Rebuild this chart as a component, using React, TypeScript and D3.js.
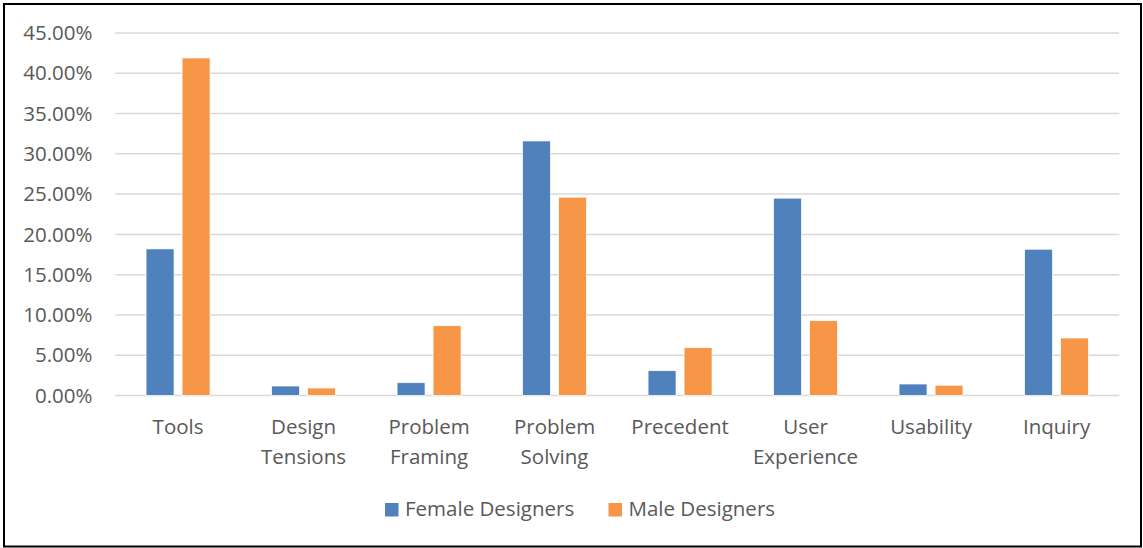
import React from "react";
import * as d3 from "d3";

// Share of design talk by theme, split by designer gender
const categories = [
  ["Tools"],
  ["Design", "Tensions"],
  ["Problem", "Framing"],
  ["Problem", "Solving"],
  ["Precedent"],
  ["User", "Experience"],
  ["Usability"],
  ["Inquiry"],
];
const seriesNames = ["Female Designers", "Male Designers"];
const femaleValues = [0.182, 0.0118, 0.0159, 0.316, 0.0308, 0.245, 0.0143, 0.1816];
const maleValues = [0.419, 0.0093, 0.0867, 0.2462, 0.0594, 0.0929, 0.0127, 0.0714];
const yTicks = [0, 0.05, 0.1, 0.15, 0.2, 0.25, 0.3, 0.35, 0.4, 0.45];

const colors = ["#4F81BD", "#F79646"];
const textColor = "#595959";
const font = "'Open Sans', sans-serif";

export default function App() {
  const width = 1143;
  const height = 548;
  const plotLeft = 115.3;
  const plotRight = 1119.3;
  const plotTop = 33;
  const plotBottom = 395.5;

  const keys = categories.map((c) => c.join(" "));
  const x = d3.scaleBand<string>().domain(keys).range([plotLeft, plotRight]).paddingInner(0);
  const groupWidth = 64;
  const xInner = d3
    .scaleBand<string>()
    .domain(seriesNames)
    .range([0, groupWidth])
    .paddingInner(8 / 36);
  const y = d3.scaleLinear().domain([0, 0.45]).range([plotBottom, plotTop]);
  const fmt = d3.format(".2%");

  const series = [femaleValues, maleValues];

  return (
    <svg
      width={width}
      height={height}
      style={{ position: "absolute", left: 0, top: 0, background: "#fff" }}
      fontFamily={font}
    >
      <rect x={0} y={0} width={width} height={height} fill="#fff" />
      {/* frame */}
      <rect x={4} y={4} width={1137} height={542.5} fill="none" stroke="#000" strokeWidth={2} />

      {/* gridlines and y labels */}
      {yTicks.map((t) => (
        <g key={t}>
          <line
            x1={plotLeft}
            x2={plotRight}
            y1={y(t)}
            y2={y(t)}
            stroke="#d9d9d9"
            strokeWidth={1.5}
          />
          <text
            x={92.5}
            y={y(t)}
            dy="0.35em"
            textAnchor="end"
            fontSize={20.5}
            fill={textColor}
          >
            {fmt(t)}
          </text>
        </g>
      ))}

      {/* bars */}
      {keys.map((k, i) => {
        const cx = (x(k) as number) + x.bandwidth() / 2;
        const gx = cx - groupWidth / 2;
        return (
          <g key={k}>
            {seriesNames.map((s, si) => {
              const v = series[si][i];
              return (
                <rect
                  key={s}
                  x={gx + (xInner(s) as number)}
                  y={y(v)}
                  width={xInner.bandwidth()}
                  height={y(0) - y(v)}
                  fill={colors[si]}
                  stroke="#fff"
                  strokeWidth={0.75}
                />
              );
            })}
          </g>
        );
      })}

      {/* category labels */}
      {categories.map((lines, i) => {
        const cx = (x(keys[i]) as number) + x.bandwidth() / 2;
        return (
          <text key={keys[i]} x={cx} textAnchor="middle" fontSize={20.5} fill={textColor}>
            {lines.map((l, li) => (
              <tspan key={li} x={cx} y={433.5 + li * 30}>
                {l}
              </tspan>
            ))}
          </text>
        );
      })}

      {/* legend */}
      {seriesNames.map((s, si) => {
        const lx = si === 0 ? 385 : 608.5;
        return (
          <g key={s}>
            <rect x={lx} y={503} width={13.5} height={13.5} fill={colors[si]} />
            <text x={lx + 20} y={515.5} fontSize={20.5} fill={textColor}>
              {s}
            </text>
          </g>
        );
      })}
    </svg>
  );
}
